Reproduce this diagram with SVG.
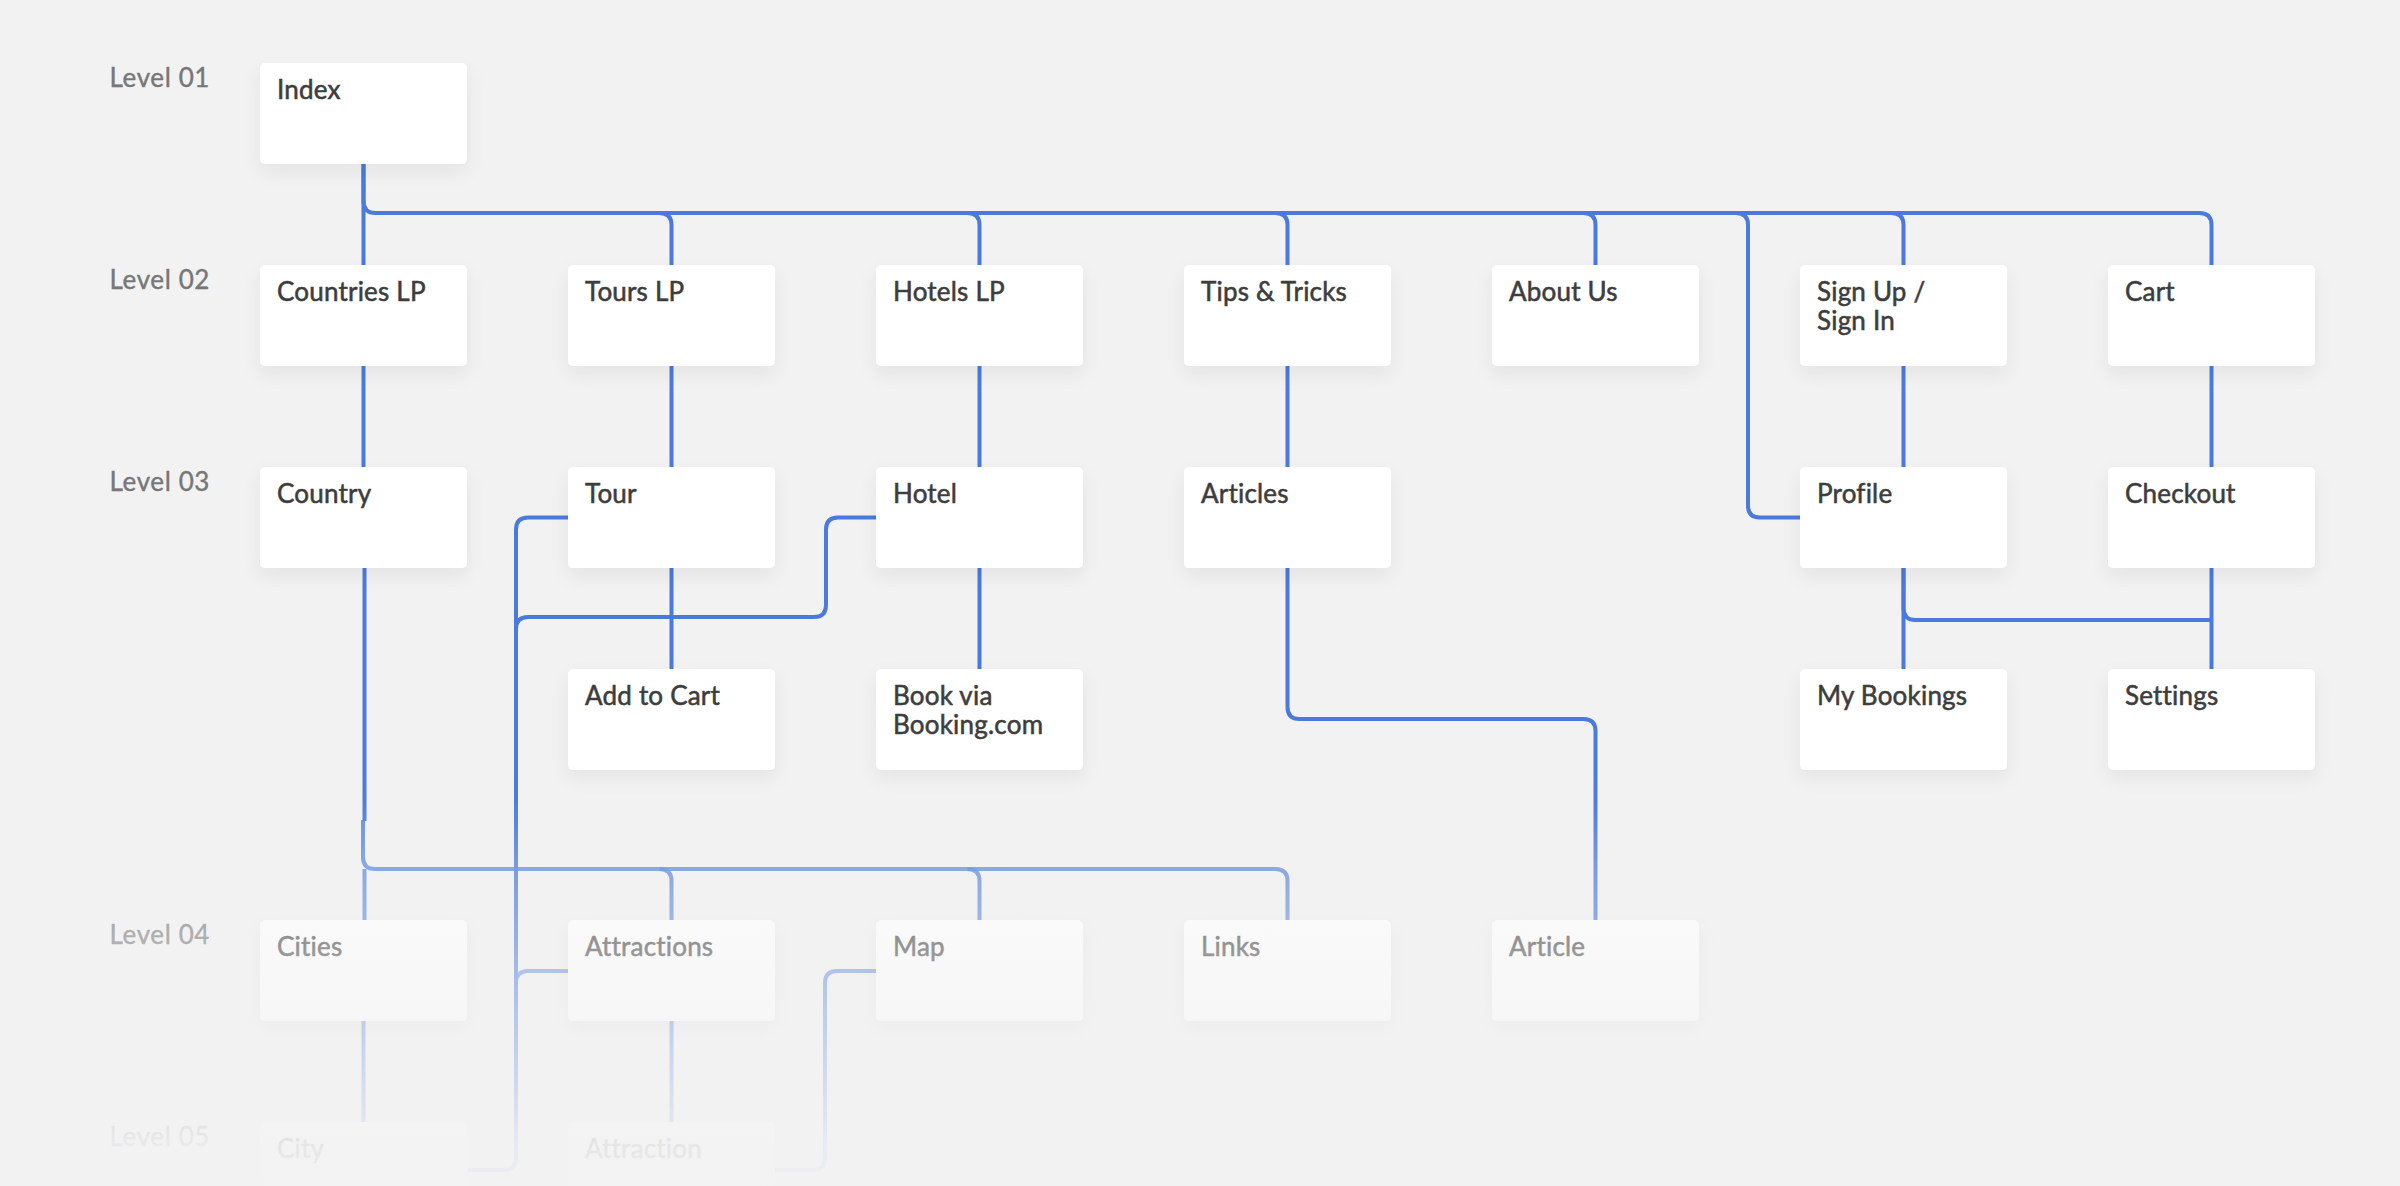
<svg xmlns="http://www.w3.org/2000/svg" width="2400" height="1186" viewBox="0 0 2400 1186">
  <defs>
    <style>
      .bg { fill: #f2f2f2; }
      .box { fill: #ffffff; filter: url(#shadow); }
      .t { font-family: Lato, "Liberation Sans", sans-serif; font-size: 26px; fill: #3d3d3d; stroke: #3d3d3d; stroke-width: 0.55px; letter-spacing: 0.2px; }
      .lvl { font-family: Lato, "Liberation Sans", sans-serif; font-size: 26px; fill: #777777; stroke: #777777; stroke-width: 0.4px; letter-spacing: 0.6px; text-anchor: end; }
      .c { fill: none; stroke: #4a7adc; stroke-width: 4; stroke-linecap: butt; stroke-linejoin: round; }
      .lo { stroke-opacity: 0.85; }
    </style>
    <filter id="shadow" x="-20%" y="-20%" width="140%" height="160%">
      <feDropShadow dx="0" dy="8" stdDeviation="9" flood-color="#000000" flood-opacity="0.06"/>
    </filter>
    <linearGradient id="fade" x1="0" y1="770" x2="0" y2="1186" gradientUnits="userSpaceOnUse">
      <stop offset="0" stop-color="#f2f2f2" stop-opacity="0"/>
      <stop offset="0.072" stop-color="#f2f2f2" stop-opacity="0.02"/>
      <stop offset="0.238" stop-color="#f2f2f2" stop-opacity="0.28"/>
      <stop offset="0.445" stop-color="#f2f2f2" stop-opacity="0.5"/>
      <stop offset="0.9" stop-color="#f2f2f2" stop-opacity="0.93"/>
      <stop offset="1" stop-color="#f2f2f2" stop-opacity="0.97"/>
    </linearGradient>
  </defs>

  <rect class="bg" x="0" y="0" width="2400" height="1186"/>

  <g id="level-labels">
    <text class="lvl" x="210" y="87">Level 01</text>
    <text class="lvl" x="210" y="289">Level 02</text>
    <text class="lvl" x="210" y="491">Level 03</text>
    <text class="lvl" x="210" y="944">Level 04</text>
    <text class="lvl" x="210" y="1146">Level 05</text>
  </g>

  <g id="connectors">
    <!-- Level 01 to Level 02 -->
    <path class="c" d="M363.5,164 V265"/>
    <path class="c" d="M363.5,164 V201 Q363.5,213 375.5,213 H2199.5 Q2211.5,213 2211.5,225 V265"/>
    <path class="c" d="M659.5,213 Q671.5,213 671.5,225 V265"/>
    <path class="c" d="M967.5,213 Q979.5,213 979.5,225 V265"/>
    <path class="c" d="M1275.5,213 Q1287.5,213 1287.5,225 V265"/>
    <path class="c" d="M1583.5,213 Q1595.5,213 1595.5,225 V265"/>
    <path class="c" d="M1736,213 Q1748,213 1748,225 V505.5 Q1748,517.5 1760,517.5 H1800"/>
    <path class="c" d="M1891.5,213 Q1903.5,213 1903.5,225 V265"/>
    <!-- Level 02 to Level 03 -->
    <path class="c" d="M363.5,366 V467"/>
    <path class="c" d="M671.5,366 V467"/>
    <path class="c" d="M979.5,366 V467"/>
    <path class="c" d="M1287.5,366 V467"/>
    <path class="c" d="M1903.5,366 V467"/>
    <path class="c" d="M2211.5,366 V467"/>
    <!-- Level 03 to sub-level -->
    <path class="c" d="M671.5,568 V669"/>
    <path class="c" d="M979.5,568 V669"/>
    <path class="c" d="M1903.5,568 V669"/>
    <path class="c" d="M2211.5,568 V669"/>
    <path class="c" d="M1903.5,568 V608 Q1903.5,620 1915.5,620 H2211.5"/>
    <!-- Tour / Hotel side links -->
    <path class="c" d="M568,517.5 H528 Q516,517.5 516,529.5 V1158 Q516,1170 504,1170 H468"/>
    <path class="c" d="M876,517.5 H838 Q826,517.5 826,529.5 V605 Q826,617 814,617 H528 Q516,617 516,629 V700"/>
    <!-- Articles to Article -->
    <path class="c" d="M1287.5,568 V707 Q1287.5,719 1299.5,719 H1583.5 Q1595.5,719 1595.5,731 V920"/>
    <!-- Country down -->
    <path class="c" d="M364.5,568 V821"/>
    <!-- Lower levels -->
    <path class="c lo" d="M363,820 V857 Q363,869 375,869 H1275.5 Q1287.5,869 1287.5,881 V920"/>
    <path class="c lo" d="M659.5,869 Q671.5,869 671.5,881 V920"/>
    <path class="c lo" d="M967.5,869 Q979.5,869 979.5,881 V920"/>
    <path class="c lo" d="M364.5,869 V920"/>
    <path class="c lo" d="M363.5,1021 V1122"/>
    <path class="c lo" d="M671.5,1021 V1122"/>
    <path class="c lo" d="M568,971 H528 Q516,971 516,983 V1100"/>
    <path class="c lo" d="M876,971 H837 Q825,971 825,983 V1158 Q825,1170 813,1170 H775"/>
  </g>

  <g id="n-index"><rect class="box" x="260" y="63" width="207" height="101" rx="5"/><text class="t" x="277" y="99">Index</text></g>

  <g id="n-countries-lp"><rect class="box" x="260" y="265" width="207" height="101" rx="5"/><text class="t" x="277" y="301">Countries LP</text></g>
  <g id="n-tours-lp"><rect class="box" x="568" y="265" width="207" height="101" rx="5"/><text class="t" x="585" y="301">Tours LP</text></g>
  <g id="n-hotels-lp"><rect class="box" x="876" y="265" width="207" height="101" rx="5"/><text class="t" x="893" y="301">Hotels LP</text></g>
  <g id="n-tips"><rect class="box" x="1184" y="265" width="207" height="101" rx="5"/><text class="t" x="1201" y="301">Tips &amp; Tricks</text></g>
  <g id="n-about"><rect class="box" x="1492" y="265" width="207" height="101" rx="5"/><text class="t" x="1509" y="301">About Us</text></g>
  <g id="n-signup"><rect class="box" x="1800" y="265" width="207" height="101" rx="5"/><text class="t" x="1817" y="301">Sign Up /</text><text class="t" x="1817" y="330">Sign In</text></g>
  <g id="n-cart"><rect class="box" x="2108" y="265" width="207" height="101" rx="5"/><text class="t" x="2125" y="301">Cart</text></g>

  <g id="n-country"><rect class="box" x="260" y="467" width="207" height="101" rx="5"/><text class="t" x="277" y="503">Country</text></g>
  <g id="n-tour"><rect class="box" x="568" y="467" width="207" height="101" rx="5"/><text class="t" x="585" y="503">Tour</text></g>
  <g id="n-hotel"><rect class="box" x="876" y="467" width="207" height="101" rx="5"/><text class="t" x="893" y="503">Hotel</text></g>
  <g id="n-articles"><rect class="box" x="1184" y="467" width="207" height="101" rx="5"/><text class="t" x="1201" y="503">Articles</text></g>
  <g id="n-profile"><rect class="box" x="1800" y="467" width="207" height="101" rx="5"/><text class="t" x="1817" y="503">Profile</text></g>
  <g id="n-checkout"><rect class="box" x="2108" y="467" width="207" height="101" rx="5"/><text class="t" x="2125" y="503">Checkout</text></g>

  <g id="n-add-to-cart"><rect class="box" x="568" y="669" width="207" height="101" rx="5"/><text class="t" x="585" y="705">Add to Cart</text></g>
  <g id="n-book-via"><rect class="box" x="876" y="669" width="207" height="101" rx="5"/><text class="t" x="893" y="705">Book via</text><text class="t" x="893" y="734">Booking.com</text></g>
  <g id="n-my-bookings"><rect class="box" x="1800" y="669" width="207" height="101" rx="5"/><text class="t" x="1817" y="705">My Bookings</text></g>
  <g id="n-settings"><rect class="box" x="2108" y="669" width="207" height="101" rx="5"/><text class="t" x="2125" y="705">Settings</text></g>

  <g id="n-cities"><rect class="box" x="260" y="920" width="207" height="101" rx="5"/><text class="t" x="277" y="956">Cities</text></g>
  <g id="n-attractions"><rect class="box" x="568" y="920" width="207" height="101" rx="5"/><text class="t" x="585" y="956">Attractions</text></g>
  <g id="n-map"><rect class="box" x="876" y="920" width="207" height="101" rx="5"/><text class="t" x="893" y="956">Map</text></g>
  <g id="n-links"><rect class="box" x="1184" y="920" width="207" height="101" rx="5"/><text class="t" x="1201" y="956">Links</text></g>
  <g id="n-article"><rect class="box" x="1492" y="920" width="207" height="101" rx="5"/><text class="t" x="1509" y="956">Article</text></g>

  <g id="n-city"><rect class="box" x="260" y="1122" width="207" height="101" rx="5"/><text class="t" x="277" y="1158">City</text></g>
  <g id="n-attraction"><rect class="box" x="568" y="1122" width="207" height="101" rx="5"/><text class="t" x="585" y="1158">Attraction</text></g>

  <rect id="fade-overlay" x="0" y="770" width="2400" height="416" fill="url(#fade)"/>
</svg>
